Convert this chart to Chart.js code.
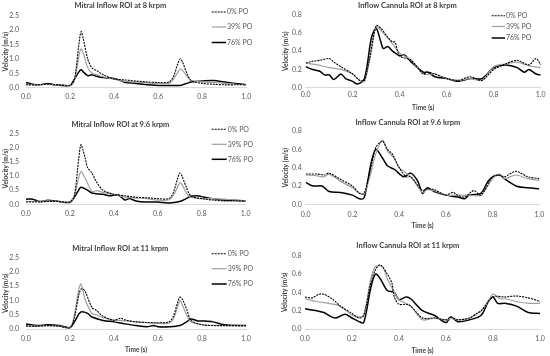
<!DOCTYPE html>
<html><head><meta charset="utf-8">
<script src="https://cdn.jsdelivr.net/npm/chart.js@4"></script>
<style>
html,body{margin:0;padding:0;background:#fff;width:550px;height:356px;overflow:hidden;position:relative}
canvas{position:absolute}
</style></head><body>
<canvas id="c0"></canvas><canvas id="c1"></canvas><canvas id="c2"></canvas>
<canvas id="c3"></canvas><canvas id="c4"></canvas><canvas id="c5"></canvas>
<script>
// ---------- data ----------
const titles = ["Mitral Inflow ROI at 8 krpm","Inflow Cannula ROI at 8 krpm","Mitral Inflow ROI at 9.6 krpm","Inflow Cannula ROI at 9.6 krpm","Mitral Inflow ROI at 11 krpm","Inflow Cannula ROI at 11 krpm"];
const seriesLabels = ["0% PO","39% PO","76% PO"];
const xTitle = "Time (s)";
const yTitle = "Velocity (m/s)";
const mitralTicksMax = 2.5, mitralStep = 0.5;
const cannulaTicksMax = 0.8, cannulaStep = 0.1;
const timeMax = 1.0, timeStep = 0.2;

// Mitral 8 krpm
const m8_p0_t = [0,0.05,0.1,0.15,0.2,0.22,0.24,0.25,0.26,0.28,0.3,0.32,0.35,0.4,0.45,0.5,0.55,0.6,0.65,0.67,0.69,0.7,0.71,0.73,0.75,0.8,0.85,0.9,0.95,1.0];
const m8_p0_v = [0.1,0.1,0.12,0.1,0.08,0.3,1.5,1.95,1.7,1.0,0.68,0.6,0.45,0.3,0.27,0.23,0.2,0.18,0.2,0.4,0.85,1.0,0.9,0.5,0.25,0.15,0.12,0.1,0.1,0.1];
const m8_p39_t = [0,0.05,0.1,0.15,0.2,0.22,0.24,0.25,0.26,0.28,0.3,0.32,0.35,0.4,0.45,0.5,0.55,0.6,0.65,0.67,0.69,0.7,0.71,0.73,0.75,0.8,0.85,0.9,0.95,1.0];
const m8_p39_v = [0.12,0.1,0.12,0.1,0.08,0.25,1.1,1.35,1.2,0.7,0.5,0.45,0.38,0.3,0.22,0.2,0.17,0.15,0.15,0.3,0.55,0.65,0.6,0.4,0.25,0.2,0.18,0.15,0.12,0.1];
const m8_p76_t = [0,0.03,0.06,0.1,0.13,0.16,0.2,0.22,0.24,0.25,0.26,0.28,0.3,0.32,0.35,0.4,0.43,0.45,0.5,0.55,0.6,0.65,0.7,0.73,0.75,0.8,0.85,0.9,0.95,1.0];
const m8_p76_v = [0.18,0.12,0.1,0.15,0.1,0.08,0.08,0.3,0.55,0.62,0.55,0.42,0.45,0.4,0.35,0.32,0.25,0.18,0.15,0.1,0.08,0.08,0.08,0.15,0.2,0.23,0.25,0.2,0.15,0.1];

// Cannula 8 krpm
const c8_p0_t = [0,0.03,0.06,0.1,0.12,0.15,0.2,0.23,0.25,0.27,0.3,0.32,0.35,0.37,0.38,0.4,0.45,0.5,0.52,0.55,0.6,0.65,0.7,0.75,0.78,0.8,0.85,0.9,0.95,0.98,1.0];
const c8_p0_v = [0.27,0.29,0.3,0.32,0.28,0.23,0.15,0.08,0.08,0.3,0.68,0.65,0.55,0.5,0.5,0.35,0.3,0.15,0.17,0.15,0.1,0.08,0.12,0.08,0.15,0.2,0.26,0.3,0.25,0.32,0.25];
const c8_p39_t = [0,0.05,0.1,0.15,0.2,0.23,0.25,0.28,0.3,0.33,0.37,0.4,0.45,0.5,0.55,0.6,0.65,0.7,0.75,0.8,0.85,0.9,0.95,1.0];
const c8_p39_v = [0.27,0.25,0.22,0.2,0.15,0.08,0.07,0.4,0.67,0.6,0.48,0.38,0.3,0.15,0.15,0.1,0.08,0.1,0.08,0.23,0.26,0.28,0.24,0.22];
const c8_p76_t = [0,0.03,0.06,0.08,0.1,0.12,0.15,0.17,0.2,0.22,0.25,0.28,0.3,0.32,0.33,0.35,0.37,0.4,0.42,0.45,0.5,0.52,0.55,0.6,0.65,0.7,0.75,0.8,0.85,0.9,0.93,0.95,0.98,1.0];
const c8_p76_v = [0.23,0.2,0.18,0.14,0.14,0.09,0.15,0.1,0.07,0.04,0.1,0.55,0.65,0.5,0.43,0.45,0.4,0.35,0.36,0.28,0.17,0.17,0.12,0.1,0.07,0.1,0.1,0.22,0.25,0.22,0.17,0.2,0.15,0.14];

// Mitral 9.6 krpm
const m96_p0_t = [0,0.05,0.1,0.15,0.2,0.22,0.24,0.25,0.26,0.27,0.28,0.3,0.32,0.35,0.4,0.45,0.5,0.55,0.6,0.65,0.67,0.69,0.7,0.71,0.73,0.75,0.8,0.85,0.9,0.95,1.0];
const m96_p0_v = [0.08,0.08,0.1,0.1,0.08,0.3,1.6,2.1,1.9,1.6,1.3,1.1,0.8,0.5,0.35,0.3,0.25,0.23,0.2,0.2,0.4,0.9,1.1,1.0,0.6,0.3,0.2,0.15,0.12,0.12,0.12];
const m96_p39_t = [0,0.05,0.1,0.15,0.2,0.22,0.24,0.25,0.26,0.28,0.3,0.32,0.35,0.4,0.45,0.5,0.55,0.6,0.65,0.67,0.69,0.7,0.71,0.73,0.75,0.8,0.85,0.9,0.95,1.0];
const m96_p39_v = [0.1,0.1,0.12,0.1,0.08,0.3,0.95,1.15,1.05,0.75,0.45,0.48,0.42,0.35,0.25,0.22,0.2,0.15,0.15,0.3,0.6,0.75,0.7,0.4,0.25,0.2,0.2,0.18,0.15,0.12];
const m96_p76_t = [0,0.03,0.06,0.1,0.15,0.2,0.22,0.24,0.25,0.28,0.3,0.35,0.38,0.42,0.45,0.47,0.5,0.55,0.6,0.65,0.7,0.73,0.75,0.78,0.8,0.85,0.9,0.95,1.0];
const m96_p76_v = [0.18,0.18,0.1,0.14,0.1,0.07,0.25,0.5,0.6,0.5,0.4,0.35,0.3,0.33,0.15,0.2,0.12,0.08,0.08,0.05,0.1,0.2,0.28,0.3,0.27,0.2,0.15,0.14,0.12];

// Cannula 9.6 krpm
const c96_p0_t = [0,0.05,0.08,0.1,0.15,0.2,0.23,0.25,0.27,0.3,0.32,0.33,0.35,0.37,0.4,0.43,0.45,0.5,0.52,0.55,0.6,0.63,0.65,0.68,0.72,0.75,0.8,0.83,0.85,0.9,0.95,1.0];
const c96_p0_v = [0.33,0.33,0.32,0.34,0.27,0.2,0.12,0.12,0.3,0.62,0.68,0.69,0.6,0.55,0.4,0.3,0.3,0.15,0.17,0.16,0.1,0.13,0.1,0.08,0.15,0.1,0.3,0.32,0.3,0.36,0.3,0.28];
const c96_p39_t = [0,0.05,0.08,0.1,0.15,0.2,0.23,0.25,0.28,0.3,0.33,0.35,0.38,0.4,0.45,0.5,0.52,0.55,0.6,0.65,0.7,0.75,0.8,0.83,0.85,0.9,0.95,1.0];
const c96_p39_v = [0.32,0.31,0.3,0.33,0.25,0.18,0.12,0.11,0.35,0.55,0.7,0.58,0.5,0.4,0.3,0.13,0.16,0.15,0.1,0.1,0.1,0.1,0.28,0.33,0.28,0.32,0.28,0.26];
const c96_p76_t = [0,0.03,0.07,0.1,0.15,0.2,0.23,0.25,0.28,0.3,0.33,0.35,0.38,0.42,0.45,0.48,0.5,0.52,0.55,0.6,0.65,0.68,0.7,0.75,0.78,0.8,0.83,0.85,0.9,0.95,1.0];
const c96_p76_v = [0.24,0.2,0.2,0.14,0.13,0.1,0.06,0.07,0.45,0.6,0.5,0.42,0.38,0.3,0.34,0.25,0.12,0.18,0.14,0.1,0.08,0.06,0.1,0.12,0.25,0.3,0.32,0.28,0.2,0.18,0.17];

// Mitral 11 krpm
const m11_p0_t = [0,0.05,0.1,0.15,0.2,0.22,0.24,0.25,0.26,0.27,0.3,0.32,0.35,0.4,0.43,0.45,0.5,0.55,0.6,0.65,0.67,0.69,0.7,0.71,0.73,0.75,0.8,0.85,0.9,1.0];
const m11_p0_v = [0.1,0.1,0.12,0.1,0.05,0.4,1.2,1.4,1.4,1.3,0.75,0.65,0.45,0.3,0.38,0.32,0.25,0.23,0.22,0.25,0.45,0.95,1.12,1.05,0.7,0.3,0.15,0.12,0.12,0.12];
const m11_p39_t = [0,0.05,0.1,0.15,0.2,0.22,0.24,0.25,0.26,0.27,0.3,0.32,0.35,0.4,0.5,0.6,0.65,0.67,0.69,0.7,0.71,0.73,0.75,0.8,0.9,1.0];
const m11_p39_v = [0.12,0.1,0.12,0.1,0.05,0.5,1.4,1.58,1.3,1.0,0.55,0.5,0.4,0.32,0.25,0.2,0.2,0.35,0.8,1.0,0.85,0.5,0.25,0.15,0.12,0.12];
const m11_p76_t = [0,0.05,0.1,0.15,0.2,0.22,0.24,0.25,0.28,0.3,0.35,0.4,0.45,0.5,0.55,0.58,0.6,0.65,0.7,0.73,0.75,0.78,0.8,0.85,0.9,1.0];
const m11_p76_v = [0.18,0.12,0.15,0.12,0.05,0.25,0.52,0.6,0.55,0.42,0.3,0.25,0.18,0.12,0.08,0.12,0.08,0.08,0.12,0.25,0.35,0.28,0.28,0.25,0.15,0.12];

// Cannula 11 krpm
const c11_p0_t = [0,0.03,0.06,0.08,0.12,0.15,0.2,0.23,0.25,0.28,0.3,0.32,0.35,0.37,0.38,0.4,0.43,0.45,0.5,0.55,0.6,0.62,0.65,0.7,0.73,0.75,0.8,0.85,0.9,0.95,1.0];
const c11_p0_v = [0.35,0.34,0.38,0.38,0.32,0.25,0.17,0.12,0.15,0.5,0.65,0.7,0.6,0.5,0.35,0.27,0.27,0.25,0.12,0.12,0.1,0.13,0.1,0.12,0.17,0.2,0.35,0.35,0.36,0.34,0.3];
const c11_p39_t = [0,0.05,0.1,0.15,0.2,0.23,0.25,0.28,0.3,0.33,0.35,0.38,0.4,0.45,0.5,0.55,0.6,0.62,0.65,0.7,0.75,0.78,0.8,0.83,0.85,0.9,0.95,1.0];
const c11_p39_v = [0.33,0.3,0.28,0.25,0.15,0.13,0.15,0.55,0.68,0.68,0.55,0.4,0.32,0.25,0.1,0.12,0.1,0.12,0.1,0.12,0.2,0.3,0.38,0.33,0.33,0.3,0.28,0.28];
const c11_p76_t = [0,0.05,0.08,0.1,0.13,0.17,0.2,0.23,0.25,0.28,0.3,0.32,0.35,0.38,0.4,0.43,0.45,0.5,0.55,0.6,0.62,0.65,0.7,0.75,0.78,0.8,0.82,0.85,0.9,0.95,1.0];
const c11_p76_v = [0.22,0.2,0.18,0.15,0.12,0.16,0.12,0.08,0.07,0.45,0.6,0.55,0.42,0.4,0.32,0.35,0.33,0.2,0.15,0.07,0.13,0.08,0.1,0.15,0.3,0.35,0.28,0.28,0.25,0.18,0.17];

// ---------- styles & layout ----------
const FONT = "Lato, 'Open Sans', sans-serif";
const styles = [
  {color:'#000000', width:1.1, dash:[2,1]},
  {color:'#a0a0a0', width:1.2, dash:[]},
  {color:'#000000', width:1.5, dash:[]}
];

const panels = [
  {id:'c0', title:titles[0], series:[[m8_p0_t,m8_p0_v],[m8_p39_t,m8_p39_v],[m8_p76_t,m8_p76_v]], yMax:mitralTicksMax, yStep:mitralStep,
   cv:{l:-6,t:0,w:262,h:110}, area:{L:26,R:246.7,T:15.7,B:87.7}, titleY:6, tickY:96.7, xTitleY:null, yTitleX:6, ytp:7,
   legend:{x0:211.7,x1:226,rows:[12,27,42.5]}},
  {id:'c1', title:titles[1], series:[[c8_p0_t,c8_p0_v],[c8_p39_t,c8_p39_v],[c8_p76_t,c8_p76_v]], yMax:cannulaTicksMax, yStep:cannulaStep,
   cv:{l:274,t:0,w:276,h:115}, area:{L:305.7,R:540.7,T:14.7,B:87.7}, titleY:6, tickY:94.3, xTitleY:108.3, yTitleX:286, ytp:4,
   legend:{x0:491.7,x1:505,rows:[15.7,26.5,38]}},
  {id:'c2', title:titles[2], series:[[m96_p0_t,m96_p0_v],[m96_p39_t,m96_p39_v],[m96_p76_t,m96_p76_v]], yMax:mitralTicksMax, yStep:mitralStep,
   cv:{l:-6,t:115,w:262,h:110}, area:{L:26,R:246.7,T:133.3,B:204.3}, titleY:124.3, tickY:214, xTitleY:null, yTitleX:6, ytp:7,
   legend:{x0:211.7,x1:226.7,rows:[129.3,144.3,159.3]}},
  {id:'c3', title:titles[3], series:[[c96_p0_t,c96_p0_v],[c96_p39_t,c96_p39_v],[c96_p76_t,c96_p76_v]], yMax:cannulaTicksMax, yStep:cannulaStep,
   cv:{l:274,t:115,w:276,h:118}, area:{L:305.7,R:541.7,T:131,B:204.3}, titleY:122.3, tickY:214.3, xTitleY:226, yTitleX:285.7, ytp:4,
   legend:null},
  {id:'c4', title:titles[4], series:[[m11_p0_t,m11_p0_v],[m11_p39_t,m11_p39_v],[m11_p76_t,m11_p76_v]], yMax:mitralTicksMax, yStep:mitralStep,
   cv:{l:-6,t:236,w:262,h:120}, area:{L:26,R:246.7,T:257.7,B:329}, titleY:248.3, tickY:338.3, xTitleY:350, yTitleX:6, ytp:7,
   legend:{x0:211.7,x1:226.7,rows:[253.7,268.7,284]}},
  {id:'c5', title:titles[5], series:[[c11_p0_t,c11_p0_v],[c11_p39_t,c11_p39_v],[c11_p76_t,c11_p76_v]], yMax:cannulaTicksMax, yStep:cannulaStep,
   cv:{l:274,t:236,w:276,h:120}, area:{L:305,R:541.7,T:255.7,B:329}, titleY:246, tickY:338.3, xTitleY:350.7, yTitleX:285, ytp:3.5,
   legend:null}
];

const sideLegend = {
  id:'sideLegend',
  afterDraw(chart, args, opts){
    if(!opts || !opts.rows) return;
    const ctx = chart.ctx;
    chart.data.datasets.forEach((ds,i)=>{
      const y = opts.rows[i] - opts.oy, x0 = opts.x0 - opts.ox, x1 = opts.x1 - opts.ox;
      ctx.save();
      ctx.strokeStyle = ds.borderColor; ctx.lineWidth = ds.borderWidth;
      ctx.setLineDash(ds.borderDash || []);
      ctx.beginPath(); ctx.moveTo(x0,y); ctx.lineTo(x1,y); ctx.stroke();
      ctx.setLineDash([]);
      ctx.fillStyle = '#595959'; ctx.font = "7px " + FONT;
      ctx.textBaseline = 'middle'; ctx.textAlign = 'left';
      ctx.fillText(ds.label, x1 + 1, y);
      ctx.restore();
    });
  }
};

const TITLE_SIZE = 7.5, TICK_SIZE = 7, AX_SIZE = 6.5;
const LH = s => s * 1.2;

panels.forEach(p=>{
  const cv = document.getElementById(p.id);
  cv.width = p.cv.w; cv.height = p.cv.h;
  cv.style.left = p.cv.l + 'px'; cv.style.top = p.cv.t + 'px';
  cv.style.width = p.cv.w + 'px'; cv.style.height = p.cv.h + 'px';
  const aT = p.area.T - p.cv.t, aB = p.area.B - p.cv.t, aL = p.area.L - p.cv.l, aR = p.area.R - p.cv.l;
  const tY = p.titleY - p.cv.t;
  const tpt = tY - LH(TITLE_SIZE)/2, tpb = aT - tY - LH(TITLE_SIZE)/2;
  const xh = p.cv.h - aB;
  const xtp = (p.tickY - p.cv.t) - aB - LH(TICK_SIZE)/2;
  const xtpb = p.xTitleY ? p.cv.h - (p.xTitleY - p.cv.t) - LH(AX_SIZE)/2 : 0;
  const yw = aL;
  const ytpt = (p.yTitleX - p.cv.l) - LH(AX_SIZE)/2;
  const datasets = p.series.map((s,i)=>({
    label: seriesLabels[i],
    data: s[0].map((t,k)=>({x:t, y:s[1][k]})),
    borderColor: styles[i].color, borderWidth: styles[i].width, borderDash: styles[i].dash,
    pointRadius:0, fill:false, tension:0.3, borderCapStyle:'butt', borderJoinStyle:'round'
  }));
  new Chart(cv, {
    type:'line',
    data:{datasets},
    plugins:[sideLegend],
    options:{
      responsive:false, animation:false, devicePixelRatio:1,
      layout:{padding:{left:0,right:p.cv.w - aR,top:0,bottom:0}},
      plugins:{
        legend:{display:false}, tooltip:{enabled:false},
        title:{display:true, text:p.title, color:'#404040', font:{family:FONT,size:TITLE_SIZE,weight:'bold'}, padding:{top:tpt,bottom:tpb}},
        sideLegend: p.legend ? {x0:p.legend.x0, x1:p.legend.x1, rows:p.legend.rows, ox:p.cv.l, oy:p.cv.t} : {}
      },
      scales:{
        x:{type:'linear', min:0, max:timeMax,
          afterFit(s){ s.height = xh; },
          ticks:{stepSize:timeStep, callback:v=>Number(v).toFixed(1), padding:xtp, color:'#595959', font:{family:FONT,size:TICK_SIZE}, maxRotation:0, autoSkip:false},
          grid:{display:false, drawTicks:false},
          border:{display:true, color:'#d9d9d9', width:1},
          title:{display:!!p.xTitleY, text:xTitle, color:'#404040', font:{family:FONT,size:AX_SIZE,weight:'bold'}, padding:{top:0,bottom:xtpb}}
        },
        y:{type:'linear', min:0, max:p.yMax,
          afterFit(s){ s.width = yw; },
          ticks:{stepSize:p.yStep, callback:v=>Number(v).toFixed(1), padding:p.ytp, color:'#595959', font:{family:FONT,size:TICK_SIZE}},
          grid:{display:false, drawTicks:false},
          border:{display:false},
          title:{display:true, text:yTitle, color:'#404040', font:{family:FONT,size:AX_SIZE,weight:'bold'}, padding:{top:ytpt,bottom:0}}
        }
      }
    }
  });
});
</script>
</body></html>
